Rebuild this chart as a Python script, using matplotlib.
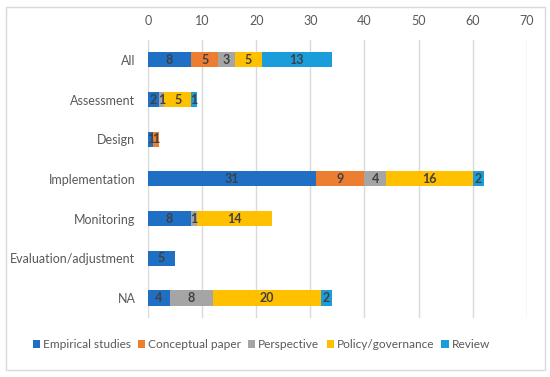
import matplotlib.pyplot as plt
from matplotlib.patches import Rectangle

plt.rcParams['font.family'] = ['Lato', 'DejaVu Sans']

categories = ['All', 'Assessment', 'Design', 'Implementation', 'Monitoring',
              'Evaluation/adjustment', 'NA']
series = ['Empirical studies', 'Conceptual paper', 'Perspective', 'Policy/governance', 'Review']
empirical = [8, 2, 1, 31, 8, 5, 4]
conceptual = [5, 0, 1, 9, 0, 0, 0]
perspective = [3, 1, 0, 4, 1, 0, 8]
policy = [5, 5, 0, 16, 14, 0, 20]
review = [13, 1, 0, 2, 0, 0, 2]
colors = ['#1f6fc5', '#ed7d31', '#a5a5a5', '#ffc000', '#1b9ddb']

values = [empirical, conceptual, perspective, policy, review]

fig = plt.figure(figsize=(5.5, 3.77), dpi=100)
fig.patches.append(Rectangle((0.011, 0.018), 0.979, 0.963, transform=fig.transFigure,
                             fill=False, edgecolor='#d9d9d9', linewidth=1))
ax = fig.add_axes([0.269, 0.157, 0.689, 0.737])

y = list(range(len(categories)))
left = [0] * len(categories)
for name, vals, col in zip(series, values, colors):
    ax.barh(y, vals, left=left, height=0.38, color=col, label=name, zorder=3)
    for i, v in enumerate(vals):
        if v > 0:
            ax.text(left[i] + v / 2, i, str(v), ha='center', va='center',
                    fontsize=9, fontweight='bold', color='#404040', zorder=4)
    left = [a + b for a, b in zip(left, vals)]

ax.set_xlim(0, 70)
ax.set_ylim(6.5, -0.5)
ax.set_xticks(range(0, 71, 10))
ax.set_yticks(y)
ax.set_yticklabels(categories)
ax.xaxis.tick_top()
ax.tick_params(axis='both', length=0, labelsize=9, colors='#595959', pad=9)
ax.tick_params(axis='y', pad=9)
ax.grid(axis='x', color='#d9d9d9', linewidth=1, zorder=0)
for s in ax.spines.values():
    s.set_visible(False)

fig.legend(loc='center', bbox_to_anchor=(0.475, 0.085), ncol=5, frameon=False,
           fontsize=8.6, handlelength=0.6, handleheight=0.6, handletextpad=0.25,
           columnspacing=0.6, labelcolor='#595959')

fig.savefig('out.png', dpi=100)
